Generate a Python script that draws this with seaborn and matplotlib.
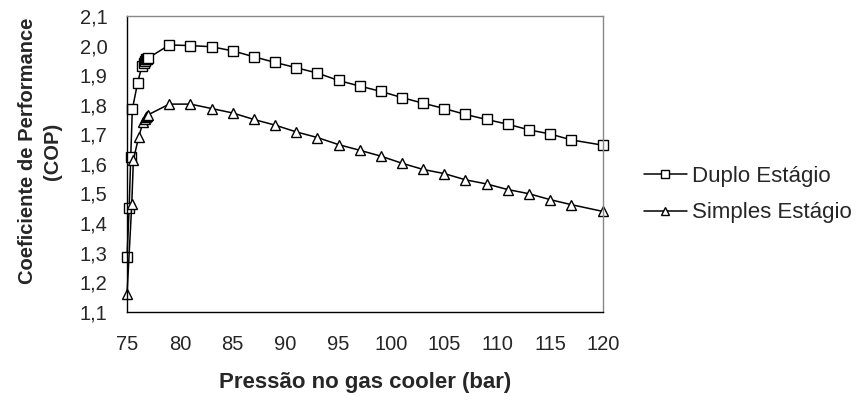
import matplotlib
matplotlib.use("Agg")
import matplotlib.pyplot as plt
from matplotlib.ticker import MultipleLocator, FuncFormatter
import seaborn as sns
import pandas as pd

# Data
duplo_p = [75.0, 75.2, 75.35, 75.5, 76.0, 76.4, 76.6, 76.7, 76.8, 76.9, 77.0,
           79, 81, 83, 85, 87, 89, 91, 93, 95, 97, 99, 101, 103, 105, 107,
           109, 111, 113, 115, 117, 120]
duplo_cop = [1.286, 1.45, 1.622, 1.784, 1.874, 1.930, 1.942, 1.948, 1.953, 1.956, 1.958,
             2.002, 2.000, 1.996, 1.982, 1.962, 1.943, 1.925, 1.907, 1.882, 1.863,
             1.845, 1.824, 1.805, 1.787, 1.767, 1.750, 1.734, 1.715, 1.701, 1.681, 1.663]

simples_p = [75.0, 75.45, 75.6, 76.1, 76.5, 76.7, 76.8, 76.9, 77.0,
             79, 81, 83, 85, 87, 89, 91, 93, 95, 97, 99, 101, 103, 105, 107,
             109, 111, 113, 115, 117, 120]
simples_cop = [1.160, 1.465, 1.614, 1.690, 1.740, 1.752, 1.758, 1.762, 1.766,
               1.802, 1.802, 1.787, 1.772, 1.750, 1.731, 1.708, 1.689, 1.665, 1.646,
               1.626, 1.602, 1.581, 1.567, 1.546, 1.532, 1.513, 1.499, 1.479, 1.462, 1.439]

series_names = ["Duplo Estágio", "Simples Estágio"]
x_label = "Pressão no gas cooler (bar)"
y_label = "Coeficiente de Performance\n(COP)"

df = pd.concat([
    pd.DataFrame({"p": duplo_p, "cop": duplo_cop, "serie": series_names[0]}),
    pd.DataFrame({"p": simples_p, "cop": simples_cop, "serie": series_names[1]}),
])

sns.set_style("white")
plt.rcParams["font.family"] = ["Liberation Sans", "DejaVu Sans"]

fig = plt.figure(figsize=(8.56, 4.0), dpi=100)
ax = fig.add_axes([0.1484, 0.2208, 0.5560, 0.7392])

markers = {series_names[0]: "s", series_names[1]: "^"}
for name in series_names:
    sub = df[df["serie"] == name]
    sns.lineplot(data=sub, x="p", y="cop", ax=ax, color="black", linewidth=1.1,
                 marker=markers[name], markersize=7 if name == series_names[0] else 7.5,
                 markerfacecolor="white", markeredgecolor="black", markeredgewidth=1.0,
                 estimator=None, sort=False, label=name, clip_on=False)

ax.set_xlim(75, 120)
ax.set_ylim(1.1, 2.1)
ax.xaxis.set_major_locator(MultipleLocator(5))
ax.xaxis.set_minor_locator(MultipleLocator(1))
ax.yaxis.set_major_locator(MultipleLocator(0.1))
ax.yaxis.set_minor_locator(MultipleLocator(0.02))
ax.yaxis.set_major_formatter(FuncFormatter(lambda v, pos: f"{v:.1f}".replace(".", ",")))
ax.xaxis.set_major_formatter(FuncFormatter(lambda v, pos: f"{v:.0f}"))

ax.tick_params(axis="both", which="major", direction="out", length=7, width=1,
               color="black", labelsize=14.5, pad=6)
ax.tick_params(axis="both", which="minor", direction="in", length=6, width=1, color="black")
ax.tick_params(axis="x", which="major", pad=10)
ax.tick_params(axis="y", which="major", pad=7)

for s in ["left", "bottom"]:
    ax.spines[s].set_color("black")
    ax.spines[s].set_linewidth(1.0)
for s in ["top", "right"]:
    ax.spines[s].set_color("#888888")
    ax.spines[s].set_linewidth(1.0)

ax.set_xlabel(x_label, fontsize=16, fontweight="bold", labelpad=13)
ax.set_ylabel(y_label, fontsize=14.5, fontweight="bold", linespacing=1.45,
              va="center", ha="center")
ax.yaxis.set_label_coords(-0.183, 0.543)

leg = ax.legend(loc="center left", bbox_to_anchor=(1.045, 0.396), frameon=False,
                fontsize=16, handlelength=1.9, handletextpad=0.25, labelspacing=0.7,
                markerscale=0.75)

fig.savefig("out.png", dpi=100, facecolor="white")
